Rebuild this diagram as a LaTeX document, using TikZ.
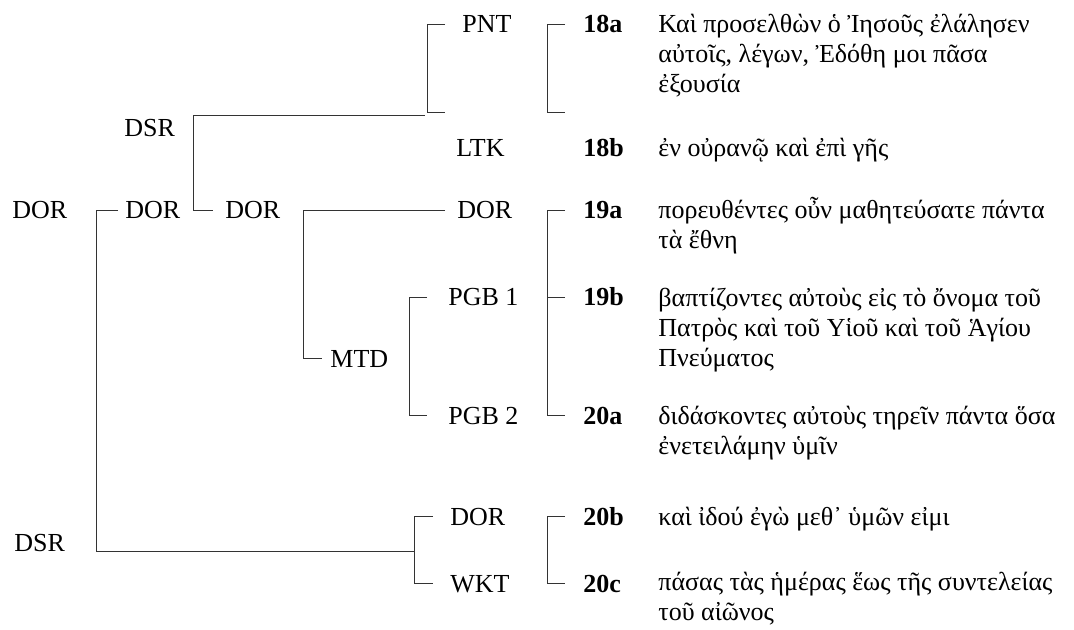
\documentclass[tikz,border=0pt]{standalone}
\usepackage{fontspec}
\setmainfont{Liberation Serif}
\begin{document}
\begin{tikzpicture}[x=0.5pt,y=-0.5pt,
  lbl/.style={anchor=base west,inner sep=0pt,font=\fontsize{13}{15}\selectfont},
  vnum/.style={lbl,font=\fontsize{13}{15}\selectfont\bfseries},
  vtxt/.style={lbl,align=left},
  brk/.style={line width=0.5pt,black!80}]
\useasboundingbox (0,0) rectangle (1074,630);
% tree labels
\node[lbl] (dorA) at (12,219) {DOR};
\node[lbl] (dsrA) at (124,137) {DSR};
\node[lbl] (dorB) at (125,219) {DOR};
\node[lbl] (dorC) at (225,219) {DOR};
\node[lbl] (pnt) at (462,33) {PNT};
\node[lbl] (ltk) at (456,157) {LTK};
\node[lbl] (dorD) at (457,219) {DOR};
\node[lbl] (pgbA) at (448,306) {PGB 1};
\node[lbl] (mtd) at (330,367) {MTD};
\node[lbl] (pgbB) at (448,424) {PGB 2};
\node[lbl] (dsrB) at (14,551) {DSR};
\node[lbl] (dorE) at (450,525) {DOR};
\node[lbl] (wkt) at (450,592) {WKT};
% verse numbers
\node[vnum] (n18a) at (583,33) {18a};
\node[vnum] (n18b) at (583,157) {18b};
\node[vnum] (n19a) at (583,219) {19a};
\node[vnum] (n19b) at (583,306) {19b};
\node[vnum] (n20a) at (583,424) {20a};
\node[vnum] (n20b) at (583,525) {20b};
\node[vnum] (n20c) at (583,592) {20c};
% verse texts (base = last line, 30 units per line)
\node[vtxt] (t18a) at (658,93) {Καὶ προσελθὼν ὁ Ἰησοῦς ἐλάλησεν\\αὐτοῖς, λέγων, Ἐδόθη μοι πᾶσα\\ἐξουσία};
\node[vtxt] (t18b) at (658,157) {ἐν οὐρανῷ καὶ ἐπὶ γῆς};
\node[vtxt] (t19a) at (658,249) {πορευθέντες οὖν μαθητεύσατε πάντα\\τὰ ἔθνη};
\node[vtxt] (t19b) at (658,366) {βαπτίζοντες αὐτοὺς εἰς τὸ ὄνομα τοῦ\\Πατρὸς καὶ τοῦ Υἱοῦ καὶ τοῦ Ἁγίου\\Πνεύματος};
\node[vtxt] (t20a) at (658,454) {διδάσκοντες αὐτοὺς τηρεῖν πάντα ὅσα\\ἐνετειλάμην ὑμῖν};
\node[vtxt] (t20b) at (658,525) {καὶ ἰδού ἐγὼ μεθ᾽ ὑμῶν εἰμι};
\node[vtxt] (t20c) at (658,620) {πάσας τὰς ἡμέρας ἕως τῆς συντελείας\\τοῦ αἰῶνος};
% tree connectors
\draw[brk] ([xshift=-3.5pt]dorB.west) -| (96,551) -- (414,551);
\draw[brk] (425,116) -- (193,116) |- ([xshift=-6pt]dorC.west);
\draw[brk] ([xshift=-8.5pt]pnt.west) -| (427,113) -- (445,113);
\draw[brk] ([xshift=-6pt]dorD.west) -- (303,0 |- dorD.west) |- ([xshift=-4pt]mtd.west);
\draw[brk] ([xshift=-10.5pt]pgbA.west) -| (409,0 |- pgbB.west) -- ([xshift=-10.5pt]pgbB.west);
\draw[brk] ([xshift=-8.5pt]dorE.west) -| (414,0 |- wkt.west) -- ([xshift=-8.5pt]wkt.west);
% verse brackets
\draw[brk] ([xshift=-9pt]n18a.west) -| (547,113) -- (565,113);
\draw[brk] ([xshift=-9pt]n19a.west) -| (547,0 |- n20a.west) -- ([xshift=-9pt]n20a.west);
\draw[brk] ([xshift=-9pt]n19b.west) -- (547,0 |- n19b.west);
\draw[brk] ([xshift=-9pt]n20b.west) -| (547,0 |- n20c.west) -- ([xshift=-9pt]n20c.west);
\end{tikzpicture}
\end{document}
